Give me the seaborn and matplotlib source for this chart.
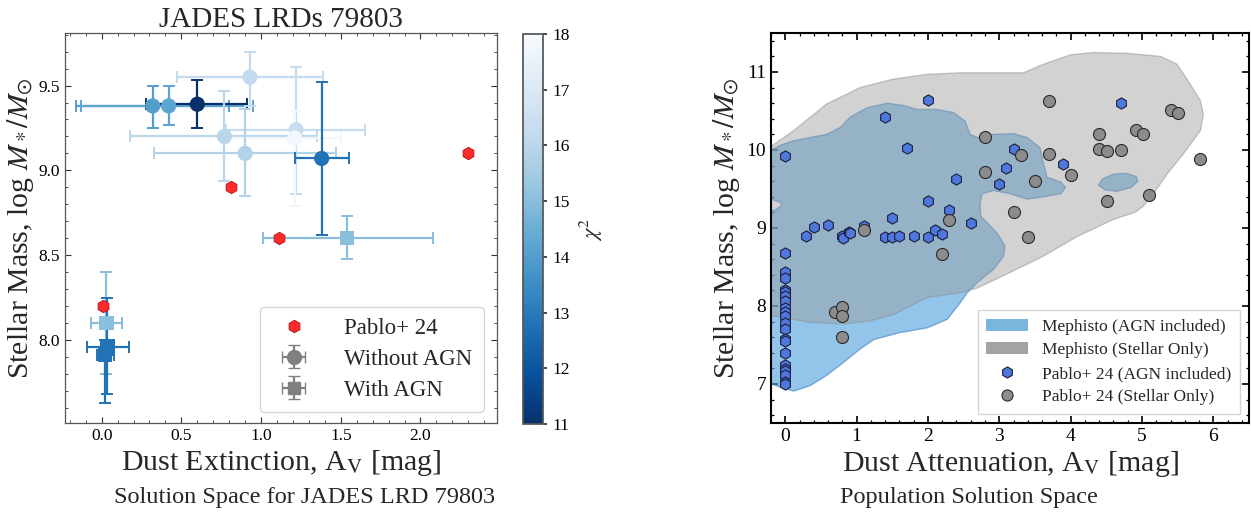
import numpy as np
import pandas as pd
import matplotlib
matplotlib.use("Agg")
import matplotlib.pyplot as plt
import seaborn as sns
from matplotlib.colors import Normalize
from matplotlib.cm import ScalarMappable
from matplotlib.patches import Patch
from matplotlib.lines import Line2D
from matplotlib.ticker import MultipleLocator

# --- datos panel izquierdo (JADES LRD 79803) ---
noagn_av = [0.32, 0.42, 0.60, 0.93, 0.77, 1.22, 1.21, 0.90, 1.38]
noagn_av_lo = [-0.16, -0.13, 0.28, 0.47, 0.18, 0.78, 0.80, 0.33, 1.21]
noagn_av_hi = [0.80, 0.95, 0.91, 1.39, 1.35, 1.65, 1.50, 1.47, 1.55]
noagn_mass = [9.38, 9.38, 9.39, 9.55, 9.20, 9.24, 9.19, 9.10, 9.07]
noagn_mass_lo = [9.25, 9.27, 9.25, 9.38, 8.94, 8.86, 8.79, 8.85, 8.62]
noagn_mass_hi = [9.50, 9.50, 9.53, 9.70, 9.47, 9.61, 9.35, 9.36, 9.52]
noagn_chi2 = [14.0, 14.2, 11.0, 16.2, 16.0, 16.3, 17.8, 15.8, 12.8]

agn_av = [1.54, 0.03, 0.035, 0.02]
agn_av_lo = [1.01, -0.07, -0.095, -0.03]
agn_av_hi = [2.08, 0.13, 0.17, 0.08]
agn_mass = [8.60, 8.10, 7.96, 7.91]
agn_mass_lo = [8.48, 7.80, 7.68, 7.63]
agn_mass_hi = [8.73, 8.40, 8.25, 8.00]
agn_chi2 = [15.0, 15.0, 12.8, 12.8]

pablo_av = [2.30, 0.81, 1.11, 0.01]
pablo_mass = [9.10, 8.90, 8.60, 8.20]

# --- datos panel derecho (poblacion) ---
hex_av = [0.0, 2.0, 1.4, 1.7, 4.7, 3.2, 3.1, 3.89, 2.4, 3.0, 2.0, 2.3, 1.5, 2.6,
          0.29, 0.4, 0.6, 0.8, 0.81, 0.9, 0.91, 1.1, 1.4, 1.5, 1.6, 1.8, 2.0, 2.1, 2.2,
          0, 0, 0, 0, 0, 0, 0, 0, 0, 0, 0, 0, 0, 0, 0, 0, 0, 0, 0, 0, 0]
hex_mass = [9.92, 10.64, 10.42, 10.03, 10.60, 10.01, 9.77, 9.82, 9.63, 9.57, 9.34, 9.23, 9.13, 9.06,
            8.90, 9.01, 9.04, 8.90, 8.87, 8.95, 8.94, 9.02, 8.89, 8.89, 8.90, 8.90, 8.89, 8.97, 8.92,
            8.68, 8.43, 8.36, 8.21, 8.18, 8.13, 8.06, 7.98, 7.92, 7.87, 7.78, 7.71, 7.58, 7.55,
            7.40, 7.25, 7.19, 7.17, 7.11, 7.02, 7.00]

circ_av = [3.7, 2.8, 3.3, 3.7, 2.8, 3.5, 4.0, 4.4, 4.4, 4.51, 4.7, 4.91, 5.01, 5.41,
           5.5, 5.81, 4.51, 5.1, 2.3, 3.2, 1.1, 3.4, 2.2, 0.7, 0.8, 0.8, 0.8]
circ_mass = [10.63, 10.17, 9.93, 9.95, 9.72, 9.60, 9.68, 10.20, 10.01, 9.99, 10.0, 10.26, 10.20, 10.51,
             10.47, 9.89, 9.34, 9.42, 9.10, 9.20, 8.98, 8.89, 8.67, 7.92, 7.99, 7.87, 7.60]

# contornos Mephisto
agn_cont_av = [-0.3, -0.07, 0.12, 0.35, 0.58, 0.77, 0.91, 1.14, 1.43, 1.66, 1.85, 2.13, 2.36, 2.52,
               2.59, 2.69, 2.92, 3.20, 3.39, 3.57, 3.62, 3.67, 3.86, 3.93, 3.86, 3.62, 3.39, 3.15,
               2.92, 2.76, 2.73, 2.74, 2.85, 2.98, 3.08, 3.06, 2.92, 2.69, 2.55, 2.45, 2.27, 1.99,
               1.61, 1.24, 1.05, 0.82, 0.58, 0.35, 0.12, -0.07, -0.3, -0.3, -0.14, -0.05, -0.07, -0.3]
agn_cont_mass = [9.95, 10.06, 10.12, 10.16, 10.20, 10.29, 10.42, 10.54, 10.60, 10.57, 10.52, 10.52, 10.48, 10.37,
                 10.20, 10.16, 10.20, 10.21, 10.16, 10.03, 9.82, 9.65, 9.59, 9.52, 9.44, 9.40, 9.37, 9.44,
                 9.48, 9.44, 9.31, 9.15, 9.05, 8.92, 8.77, 8.64, 8.47, 8.30, 8.17, 8.04, 7.83, 7.72,
                 7.66, 7.57, 7.45, 7.28, 7.11, 6.98, 6.91, 6.96, 7.04, 9.20, 9.23, 9.29, 9.33, 9.40]
agn_blob_av = [4.39, 4.45, 4.60, 4.78, 4.92, 4.94, 4.85, 4.65, 4.48]
agn_blob_mass = [9.55, 9.63, 9.69, 9.70, 9.66, 9.60, 9.52, 9.47, 9.49]

stellar_cont_av = [-0.3, 0.12, 0.58, 1.05, 1.52, 1.99, 2.45, 2.92, 3.34, 3.62, 4.00, 4.32, 4.79, 5.26,
                   5.49, 5.68, 5.82, 5.86, 5.82, 5.58, 5.35, 5.16, 5.02, 4.90, 4.60, 4.09, 3.62, 3.15,
                   2.69, 2.45, 1.99, 1.75, 1.52, 1.19, 0.82, 0.35, 0.0, -0.3]
stellar_cont_mass = [9.98, 10.25, 10.59, 10.80, 10.91, 10.97, 10.99, 10.99, 10.99, 11.10, 11.22, 11.25, 11.24, 11.20,
                     11.10, 10.84, 10.63, 10.46, 10.25, 9.95, 9.69, 9.44, 9.28, 9.20, 9.11, 8.89, 8.64, 8.43,
                     8.23, 8.17, 8.11, 8.00, 7.89, 7.81, 7.77, 7.79, 7.85, 7.89]

# --- estilo ---
sns.set_theme(style="ticks")
plt.rcParams["font.family"] = ["Liberation Serif", "DejaVu Serif"]
plt.rcParams["mathtext.fontset"] = "stix"
plt.rcParams["xtick.direction"] = "in"
plt.rcParams["ytick.direction"] = "in"

fig = plt.figure(figsize=(12.51, 5.14), dpi=100)
W, H = 1251, 514


def px_axes(x0, y0, x1, y1):
    return fig.add_axes([x0 / W, 1 - y1 / H, (x1 - x0) / W, (y1 - y0) / H])


ax1 = px_axes(65, 33, 497, 423)
cax = px_axes(523, 34, 543, 424)
ax2 = px_axes(771, 33, 1249, 423)

cmap = plt.get_cmap("Blues_r")
norm = Normalize(vmin=11, vmax=18)

# --- panel izquierdo ---
def draw_errorbars(ax, av, av_lo, av_hi, mass, mass_lo, mass_hi, chi2):
    for i in range(len(av)):
        c = cmap(norm(chi2[i]))
        ax.errorbar(av[i], mass[i],
                    xerr=[[av[i] - av_lo[i]], [av_hi[i] - av[i]]],
                    yerr=[[mass[i] - mass_lo[i]], [mass_hi[i] - mass[i]]],
                    fmt="none", ecolor=c, elinewidth=1.6, capsize=4, capthick=1.4, zorder=2)


draw_errorbars(ax1, noagn_av, noagn_av_lo, noagn_av_hi, noagn_mass, noagn_mass_lo, noagn_mass_hi, noagn_chi2)
draw_errorbars(ax1, agn_av, agn_av_lo, agn_av_hi, agn_mass, agn_mass_lo, agn_mass_hi, agn_chi2)

df_noagn = pd.DataFrame({"av": noagn_av, "mass": noagn_mass, "chi2": noagn_chi2})
df_agn = pd.DataFrame({"av": agn_av, "mass": agn_mass, "chi2": agn_chi2})
sns.scatterplot(data=df_noagn, x="av", y="mass", hue="chi2", palette="Blues_r", hue_norm=norm,
                marker="o", s=120, edgecolor="none", legend=False, ax=ax1, zorder=3)
sns.scatterplot(data=df_agn, x="av", y="mass", hue="chi2", palette="Blues_r", hue_norm=norm,
                marker="s", s=110, edgecolor="none", legend=False, ax=ax1, zorder=3)
sns.scatterplot(x=pablo_av, y=pablo_mass, marker="h", s=80, color="#ff2b2b",
                edgecolor="#b01010", linewidth=0.6, ax=ax1, zorder=4)

h_pablo = Line2D([], [], marker="h", ls="none", ms=9, mfc="#ff2b2b", mec="#b01010", mew=0.6)
h_noagn = ax1.errorbar([np.nan], [np.nan], xerr=[[0.1]], yerr=[[0.1]], fmt="o", color="gray",
                       ms=10, capsize=4, elinewidth=1.6)
h_agn = ax1.errorbar([np.nan], [np.nan], xerr=[[0.1]], yerr=[[0.1]], fmt="s", color="gray",
                     ms=9, capsize=4, elinewidth=1.6)
leg1 = ax1.legend([h_pablo, h_noagn, h_agn], ["Pablo+ 24", "Without AGN", "With AGN"],
                  loc="lower right", fontsize=16.5, frameon=True, fancybox=True, borderaxespad=0,
                  borderpad=0.5, handletextpad=1.2, labelspacing=0.42, bbox_to_anchor=(0.970, 0.028))
leg1.get_frame().set_edgecolor("#cccccc")

ax1.set_xlim(-0.23, 2.48)
ax1.set_ylim(7.51, 9.81)
ax1.xaxis.set_major_locator(MultipleLocator(0.5))
ax1.xaxis.set_minor_locator(MultipleLocator(0.1))
ax1.yaxis.set_major_locator(MultipleLocator(0.5))
ax1.yaxis.set_minor_locator(MultipleLocator(0.1))
ax1.tick_params(which="both", top=True, right=True, colors="#333333", labelcolor="black", labelsize=12.5)
ax1.tick_params(which="major", length=4, width=0.8)
ax1.tick_params(which="minor", length=2, width=0.6)
for sp in ax1.spines.values():
    sp.set_color("#555555")
    sp.set_linewidth(0.9)
ax1.set_xlabel(r"Dust Extinction, A$_{\rm V}$ [mag]", fontsize=21.5, labelpad=3)
ax1.set_ylabel(r"Stellar Mass, log $M_*/M_{\odot}$", fontsize=21.5, labelpad=2)
ax1.set_title("JADES LRDs 79803", fontsize=21, pad=4)

sm = ScalarMappable(norm=norm, cmap=cmap)
cbar = fig.colorbar(sm, cax=cax)
cbar.set_ticks(range(11, 19))
cbar.ax.tick_params(labelsize=12.5, direction="out", length=3, colors="#333333", labelcolor="black")
cbar.set_label(r"$\chi^2$", fontsize=16, labelpad=6)
cbar.outline.set_edgecolor("#555555")

# --- panel derecho ---
ax2.fill(agn_cont_av, agn_cont_mass, facecolor="#4a9fdb", alpha=0.6,
         edgecolor="#3a7fc8", linewidth=1.0, zorder=1)
ax2.fill(agn_blob_av, agn_blob_mass, facecolor="#4a9fdb", alpha=0.6,
         edgecolor="#3a7fc8", linewidth=1.0, zorder=1)
ax2.fill(stellar_cont_av, stellar_cont_mass, facecolor="#9d9d9d", alpha=0.45,
         edgecolor="#8a8a8a", linewidth=1.0, zorder=2)

sns.scatterplot(x=hex_av, y=hex_mass, marker="h", s=65, color="#4f78dd",
                edgecolor="#1c1c3a", linewidth=0.8, ax=ax2, zorder=3)
sns.scatterplot(x=circ_av, y=circ_mass, marker="o", s=75, color="#8c8c8c",
                edgecolor="#2a2a2a", linewidth=0.8, ax=ax2, zorder=4)

handles2 = [
    Patch(facecolor="#7ab6dc", edgecolor="none"),
    Patch(facecolor="#a3a3a3", edgecolor="none"),
    Line2D([], [], marker="h", ls="none", ms=8, mfc="#4f78dd", mec="#1c1c3a", mew=0.8),
    Line2D([], [], marker="o", ls="none", ms=8, mfc="#8c8c8c", mec="#2a2a2a", mew=0.8),
]
labels2 = ["Mephisto (AGN included)", "Mephisto (Stellar Only)",
           "Pablo+ 24 (AGN included)", "Pablo+ 24 (Stellar Only)"]
leg2 = ax2.legend(handles2, labels2, loc="lower right", fontsize=12.5, frameon=True, fancybox=False,
                  borderaxespad=0, borderpad=0.5, handlelength=2.4, handletextpad=0.8,
                  labelspacing=0.42, bbox_to_anchor=(0.981, 0.023))
leg2.get_frame().set_edgecolor("#cccccc")

ax2.set_xlim(-0.2, 6.5)
ax2.set_ylim(6.5, 11.5)
ax2.xaxis.set_major_locator(MultipleLocator(1))
ax2.xaxis.set_minor_locator(MultipleLocator(0.2))
ax2.yaxis.set_major_locator(MultipleLocator(1))
ax2.yaxis.set_minor_locator(MultipleLocator(0.2))
ax2.tick_params(which="both", top=True, right=True, colors="black", labelsize=14)
ax2.tick_params(which="major", length=5, width=1.2)
ax2.tick_params(which="minor", length=2.5, width=0.9)
for sp in ax2.spines.values():
    sp.set_color("black")
    sp.set_linewidth(1.5)
ax2.set_xlabel(r"Dust Attenuation, A$_{\rm V}$ [mag]", fontsize=21.5, labelpad=3)
ax2.set_ylabel(r"Stellar Mass, log $M_*/M_{\odot}$", fontsize=21.5, labelpad=3)

# --- subtitulos ---
fig.text(305 / W, 1 - 497 / H, "Solution Space for JADES LRD 79803", ha="center", va="center", fontsize=17.5)
fig.text(969 / W, 1 - 497 / H, "Population Solution Space", ha="center", va="center", fontsize=17.5)

fig.savefig("out.png", dpi=100)
